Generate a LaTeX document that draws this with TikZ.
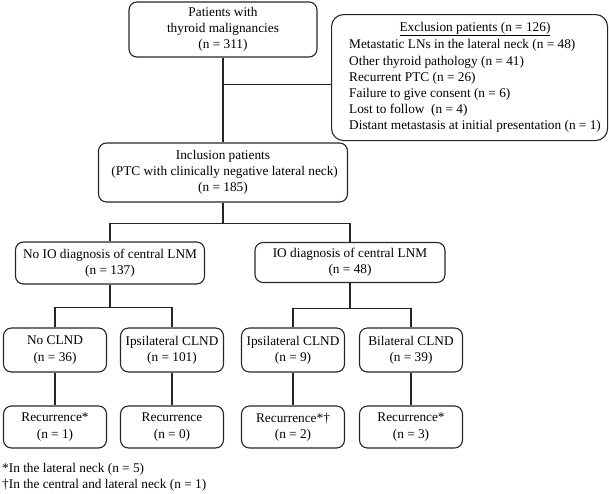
\documentclass[tikz,border=0pt]{standalone}
\usepackage{fontspec}
\setmainfont{Liberation Serif}
\usetikzlibrary{calc}
\begin{document}
\begin{tikzpicture}[x=1pt,y=1pt,
  every node/.style={font=\fontsize{13.3}{16.2}\selectfont},
  box/.style={draw=black!85, line width=1.1pt, rounded corners=8pt, align=center, inner sep=0pt},
  conn/.style={draw=black!85, line width=1.1pt}]
\useasboundingbox (0,0) rectangle (609,-493);
% top level
\node[box, minimum width=188, minimum height=55] (top) at (223,-29.5)
  {Patients with\\thyroid malignancies\\(n = 311)};
\node[box, rounded corners=12pt, minimum width=276, minimum height=126, anchor=north west] (excl) at (331,-14) {};
\node[anchor=west, inner sep=0pt] (excltxt) at (349,-77.4)
  {\begin{tabular}{@{}l@{}}
   \multicolumn{1}{@{}c@{}}{\underline{Exclusion patients (n = 126)}}\\[1.5pt]
   Metastatic LNs in the lateral neck (n = 48)\\
   Other thyroid pathology (n = 41)\\
   Recurrent PTC (n = 26)\\
   Failure to give consent (n = 6)\\
   Lost to follow\ \ (n = 4)\\
   Distant metastasis at initial presentation (n = 1)
   \end{tabular}};
\node[box, minimum width=249, minimum height=59] (incl) at (223,-172.5)
  {Inclusion patients\\\ (PTC with clinically negative lateral neck)\\(n = 185)};
% middle level
\node[box, minimum width=189, minimum height=42] (nolnm) at (110,-263)
  {No IO diagnosis of central LNM\\(n = 137)};
\node[box, minimum width=190, minimum height=40] (lnm) at (350,-262.5)
  {IO diagnosis of central LNM\\(n = 48)};
% CLND level
\node[box, minimum width=103, minimum height=44] (a1) at (55,-350) {No CLND\\(n = 36)};
\node[box, minimum width=103, minimum height=44] (b1) at (172,-350) {Ipsilateral CLND\\(n = 101)};
\node[box, minimum width=103, minimum height=44] (c1) at (293,-350) {Ipsilateral CLND\\(n = 9)};
\node[box, minimum width=103, minimum height=44] (d1) at (411,-350) {Bilateral CLND\\(n = 39)};
% recurrence level
\node[box, minimum width=103, minimum height=42] (a2) at (55,-427) {Recurrence*\\(n = 1)};
\node[box, minimum width=103, minimum height=42] (b2) at (172,-427) {Recurrence\\(n = 0)};
\node[box, minimum width=103, minimum height=42] (c2) at (293,-427) {Recurrence*\textdagger\\(n = 2)};
\node[box, minimum width=103, minimum height=42] (d2) at (411,-427) {Recurrence*\\(n = 3)};
% footnotes
\node[anchor=west, align=left, inner sep=0pt] (notes) at (2,-477)
  {*In the lateral neck (n = 5)\\\textdagger In the central and lateral neck (n = 1)};
% connectors
\draw[conn] (top.south) -- (incl.north);
\draw[conn] (top.south) ++(0,-27) coordinate (j1) -- (j1 -| excl.west);
\draw[conn] (incl.south) -- ++(0,-21) coordinate (j2);
\draw[conn] (nolnm.north) |- (j2) -| (lnm.north);
\draw[conn] (nolnm.south) -- ++(0,-23) coordinate (j3);
\draw[conn] (a1.north) |- (j3) -| (b1.north);
\draw[conn] (lnm.south) -- ++(0,-25) coordinate (j4);
\draw[conn] (c1.north) |- (j4) -| (d1.north);
\draw[conn] (a1) -- (a2);
\draw[conn] (b1) -- (b2);
\draw[conn] (c1) -- (c2);
\draw[conn] (d1) -- (d2);
\end{tikzpicture}
\end{document}
